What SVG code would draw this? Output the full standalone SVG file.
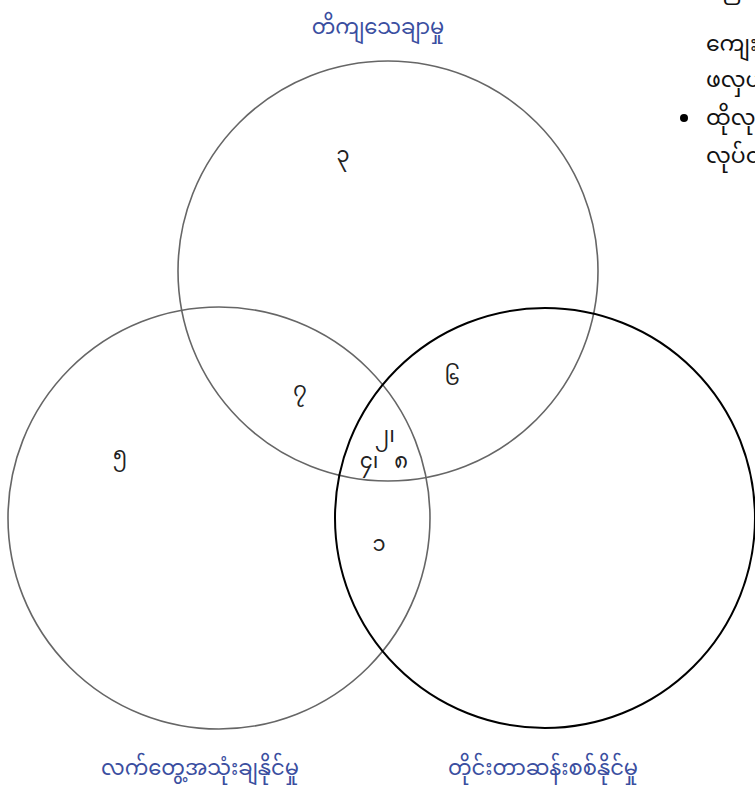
<svg xmlns="http://www.w3.org/2000/svg" width="755" height="785" viewBox="0 0 755 785">
<style>
.lbl{font-family:"Noto Sans Myanmar","Padauk","Noto Sans",sans-serif;font-size:21px;fill:#3a4ea0;text-anchor:middle}
.num{font-family:"Noto Sans Myanmar","Padauk","Noto Sans",sans-serif;font-size:21px;fill:#222;text-anchor:middle}
.side{font-family:"Noto Sans Myanmar","Padauk","Noto Sans",sans-serif;font-size:22px;fill:#111}
.c{fill:none;stroke:#666;stroke-width:1.6}
.cb{fill:none;stroke:#000;stroke-width:2}
</style>
<rect width="755" height="785" fill="#fff"/>
<g id="connectors"></g>
<g id="circle-top"><circle class="c" cx="388" cy="271" r="210"/><text class="lbl" x="378" y="34">တိကျသေချာမှု</text></g>
<g id="circle-left"><circle class="c" cx="219" cy="518" r="211"/><text class="lbl" x="200" y="775">လက်တွေ့အသုံးချနိုင်မှု</text></g>
<g id="circle-right"><circle class="cb" cx="545" cy="518" r="210"/><text class="lbl" x="543" y="775">တိုင်းတာဆန်းစစ်နိုင်မှု</text></g>
<g id="region-labels">
<text class="num" x="343" y="162">၃</text>
<text class="num" x="300" y="397">၇</text>
<text class="num" x="452" y="385">၆</text>
<text class="num" x="120" y="462">၅</text>
<text class="num" x="385" y="442">၂၊</text>
<text class="num" x="369" y="468">၄၊</text>
<text class="num" x="401" y="468">၈</text>
<text class="num" x="379" y="551">၁</text>
</g>
<g id="side-text">
<text class="side" x="722" y="-5">ပြ</text>
<text class="side" x="706" y="51">ကျေးဇူး</text>
<text class="side" x="706" y="87">ဖလှယ်</text>
<circle cx="684" cy="118" r="4" fill="#000"/>
<text class="side" x="706" y="125">ထိုလုပ်</text>
<text class="side" x="706" y="163">လုပ်ငန်း</text>
</g>
</svg>
